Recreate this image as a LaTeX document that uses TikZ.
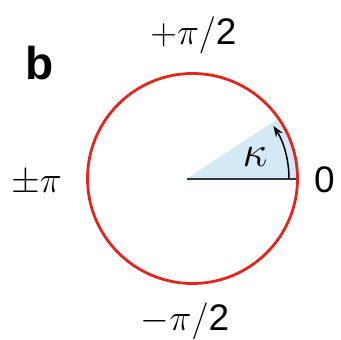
\RequirePackage{fix-cm}
\documentclass[tikz,border=0pt]{standalone}
\usepackage{fontspec}
\newfontfamily\lsans{Liberation Sans}
\usetikzlibrary{arrows.meta}
\definecolor{ringred}{RGB}{226,38,30}
\definecolor{wedgeblue}{RGB}{212,233,246}
\definecolor{axisgray}{RGB}{55,55,55}
\tikzset{
  lbl/.style={anchor=base, inner sep=0pt, font=\fontsize{37}{37}\selectfont},
  ring/.style={draw=ringred, line width=2.8pt},
  axis/.style={draw=axisgray, line width=2pt},
  anglearrow/.style={draw=black, line width=1.5pt, -{Stealth[length=11pt,width=8pt]}},
}
\begin{document}
\begin{tikzpicture}[x=1pt,y=-1pt]
\useasboundingbox (0,0) rectangle (341,340);
\coordinate (c) at (192.5,178.5);
\coordinate (apex) at (187,178.5);
\coordinate (rim) at (297.5,178.5);
\coordinate (arrs) at (289,178.5);
% wedge
\fill[wedgeblue] (apex) -- (rim) arc[start angle=0, end angle=-35, radius=105] -- cycle;
% axis line
\draw[axis] (apex) -- (rim);
% circle
\node[ring, circle, minimum size=210pt, inner sep=0pt] (circ) at (c) {};
% angle arrow
\draw[anglearrow] (arrs) arc[start angle=0, end angle=-33, radius=96.5];
% labels
\node[lbl] (top) at (193.5,45) {$+\pi/${\lsans 2}};
\node[lbl] (bot) at (185,330) {$-\pi/${\lsans 2}};
\node[lbl] (left) at (36.5,192) {$\pm\pi$};
\node[lbl] (zero) at (324.5,192) {\lsans 0};
\node[lbl, font=\fontsize{46}{46}\selectfont\lsans\bfseries] (b) at (39.5,80) {b};
\node[lbl, font=\fontsize{44}{44}\selectfont] (kappa) at (255,166) {$\kappa$};
\end{tikzpicture}
\end{document}
